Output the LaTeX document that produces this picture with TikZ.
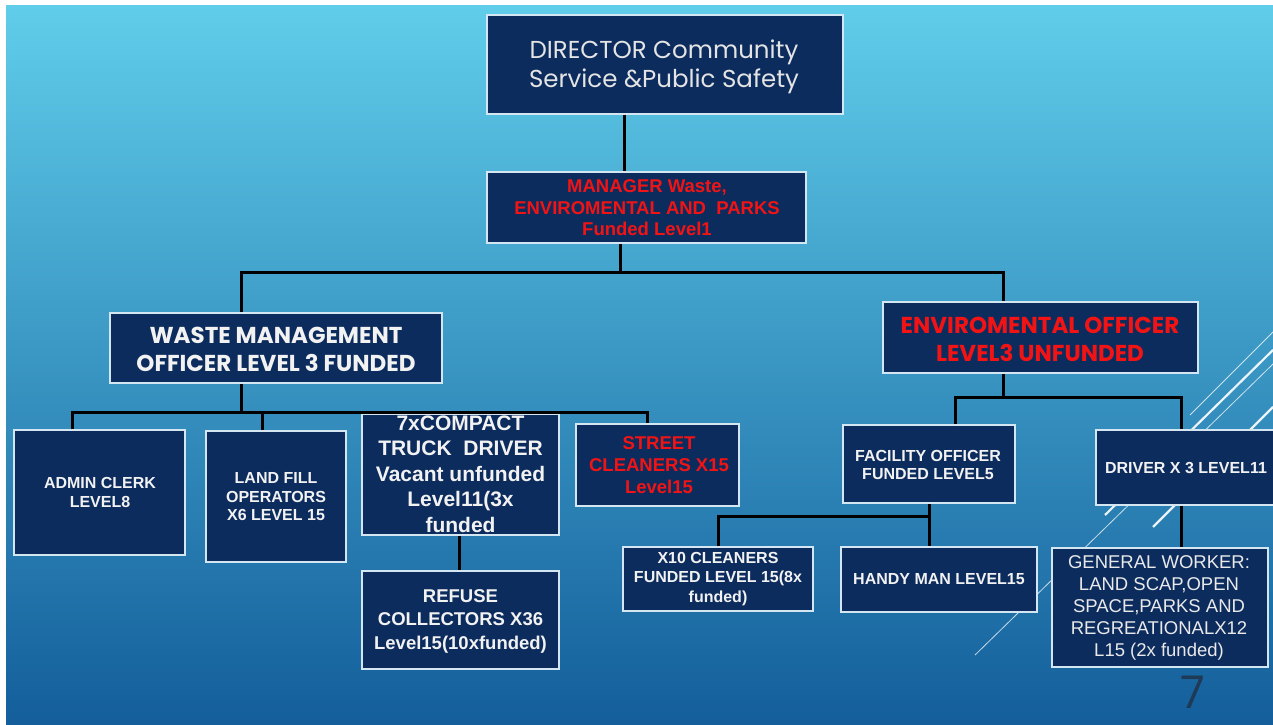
\documentclass[tikz,border=0pt]{standalone}
\usepackage{fontspec}
\setmainfont{Liberation Sans}
\newfontfamily\gothic{Poppins}
\definecolor{bgtop}{HTML}{60CDEA}
\definecolor{bgmid}{HTML}{379BCF}
\definecolor{bgbot}{HTML}{135E9B}
\definecolor{navy}{HTML}{0C2C5E}
\definecolor{edgec}{HTML}{D4E6F2}
\definecolor{txtc}{HTML}{F2F2F2}
\definecolor{redt}{HTML}{F21414}
\definecolor{sevenc}{HTML}{1E3A56}
\tikzset{
  orgbox/.style={draw=edgec, line width=1.4pt, fill=navy, inner sep=0pt},
  conn/.style={draw=black, line width=3pt},
  deco/.style={draw=white, line width=0.8pt, opacity=0.75},
  decothick/.style={draw=white, line width=2.2pt, opacity=0.9},
  sm/.style={text=txtc, align=center, inner sep=0pt, font=\bfseries\fontsize{16}{19}\selectfont},
}
\begin{document}
\begin{tikzpicture}[x=1pt,y=-1pt]
\useasboundingbox (0,0) rectangle (1273,724);
\clip (0,0) rectangle (1273,724);
\fill[white] (0,0) rectangle (1273,724);
\shade[top color=bgtop, middle color=bgmid, bottom color=bgbot] (6,5) rectangle (1273,724);
% decorative lines
\draw[deco] (975,655) -- (1273,364);
\draw[deco] (1190,415) -- (1273,332);
\draw[decothick] (1105,515) -- (1273,350);
\draw[decothick] (1153,527) -- (1273,407);
% page number
\node[text=sevenc, font=\gothic\fontsize{45}{45}\selectfont, inner sep=0pt] (pgnum) at (1193,692) {7};
% junction coordinates
\coordinate (a1) at (624,0);
\coordinate (m1) at (620,0);
\coordinate (busA) at (0,272);
\coordinate (wx) at (241,0);
\coordinate (ex) at (1003,0);
\coordinate (busB) at (0,412);
\coordinate (ax) at (72,0);
\coordinate (lx) at (262,0);
\coordinate (sx) at (647,0);
\coordinate (rx) at (459,0);
\coordinate (busC) at (0,397);
\coordinate (fx) at (955,0);
\coordinate (dx) at (1181,0);
\coordinate (hx) at (929,0);
\coordinate (cx) at (718,0);
\coordinate (busD) at (0,516);
% boxes
\node[orgbox,minimum width=356pt,minimum height=99pt] (dir) at (665,64.5) {};
\node[orgbox,minimum width=319pt,minimum height=71pt] (mgr) at (646.5,207.5) {};
\node[orgbox,minimum width=332pt,minimum height=70pt] (wmo) at (276,348) {};
\node[orgbox,minimum width=315pt,minimum height=71pt] (eo) at (1040.5,337.5) {};
\node[orgbox,minimum width=171pt,minimum height=125pt] (admin) at (99.5,492.5) {};
\node[orgbox,minimum width=140pt,minimum height=131pt] (land) at (276,496.5) {};
\node[orgbox,minimum width=197pt,minimum height=121pt] (compact) at (460.5,474.5) {};
\node[orgbox,minimum width=163pt,minimum height=82pt] (street) at (657.5,465) {};
\node[orgbox,minimum width=197pt,minimum height=98pt] (refuse) at (460.5,620) {};
\node[orgbox,minimum width=172pt,minimum height=78pt] (fac) at (929,464) {};
\node[orgbox,minimum width=184pt,minimum height=75pt] (drv) at (1188,467.5) {};
\node[orgbox,minimum width=190pt,minimum height=64pt] (x10) at (718,579) {};
\node[orgbox,minimum width=196pt,minimum height=65pt] (handy) at (939,579.5) {};
\node[orgbox,minimum width=216pt,minimum height=119pt] (gw) at (1160,607.5) {};
% connectors
\draw[conn] (dir.south -| a1) -- (mgr.north -| a1);
\draw[conn] (mgr.south -| m1) -- (m1 |- busA);
\draw[conn] (wmo.north -| wx) |- (busA -| ex) -- (eo.north -| ex);
\draw[conn] (wmo.south -| wx) -- (wx |- busB);
\draw[conn] (admin.north -| ax) |- (busB -| sx) -- (street.north -| sx);
\draw[conn] (busB -| lx) -- (land.north -| lx);
\draw[conn] (compact.south -| rx) -- (refuse.north -| rx);
\draw[conn] (eo.south -| ex) -- (ex |- busC);
\draw[conn] (fac.north -| fx) |- (busC -| dx) -- (drv.north -| dx);
\draw[conn] (fac.south -| hx) -- (handy.north -| hx);
\draw[conn] (x10.north -| cx) |- (busD -| hx);
\draw[conn] (drv.south -| dx) -- (gw.north -| dx);
% texts
\node[text=txtc!88!gray, align=center, inner sep=0pt, font=\gothic\fontsize{24.5}{28.5}\selectfont] at (664,67) {DIRECTOR Community\\Service \&Public Safety};
\node[text=redt, align=center, inner sep=0pt, font=\bfseries\fontsize{18.5}{21.5}\selectfont] at (647,208) {MANAGER Waste,\\ENVIROMENTAL AND\ \ PARKS\\Funded Level1};
\node[text=txtc, align=center, inner sep=0pt, font=\gothic\bfseries\fontsize{23}{28}\selectfont] at (276,349) {WASTE MANAGEMENT\\OFFICER LEVEL 3 FUNDED};
\node[text=redt, align=center, inner sep=0pt, font=\gothic\bfseries\fontsize{23}{28}\selectfont] at (1040,339) {ENVIROMENTAL OFFICER\\LEVEL3 UNFUNDED};
\node[sm] at (100,492.5) {ADMIN CLERK\\LEVEL8};
\node[sm, font=\bfseries\fontsize{16}{18.5}\selectfont] at (276,497) {LAND FILL\\OPERATORS\\X6 LEVEL 15};
\node[sm, font=\bfseries\fontsize{21}{25.5}\selectfont] at (460.5,474) {7xCOMPACT\\TRUCK\ \ DRIVER\\Vacant unfunded\\Level11(3x\\funded};
\node[sm, text=redt, font=\bfseries\fontsize{18.5}{22}\selectfont] at (659,465) {STREET\\CLEANERS X15\\Level15};
\node[sm, font=\bfseries\fontsize{18.5}{23.5}\selectfont] at (460.5,621) {REFUSE\\COLLECTORS X36\\Level15(10xfunded)};
\node[sm, font=\bfseries\fontsize{16}{18.5}\selectfont] at (928,465) {FACILITY OFFICER\\FUNDED LEVEL5};
\node[sm] at (1186,468) {DRIVER X 3 LEVEL11};
\node[sm, font=\bfseries\fontsize{16}{19.5}\selectfont] at (718,579) {X10 CLEANERS\\FUNDED LEVEL 15(8x\\funded)};
\node[sm] at (939,579) {HANDY MAN LEVEL15};
\node[text=txtc!92!gray, align=center, inner sep=0pt, font=\fontsize{18.5}{22}\selectfont] at (1159,607.5) {GENERAL WORKER:\\LAND SCAP,OPEN\\SPACE,PARKS AND\\REGREATIONALX12\\L15 (2x funded)};
\end{tikzpicture}
\end{document}
